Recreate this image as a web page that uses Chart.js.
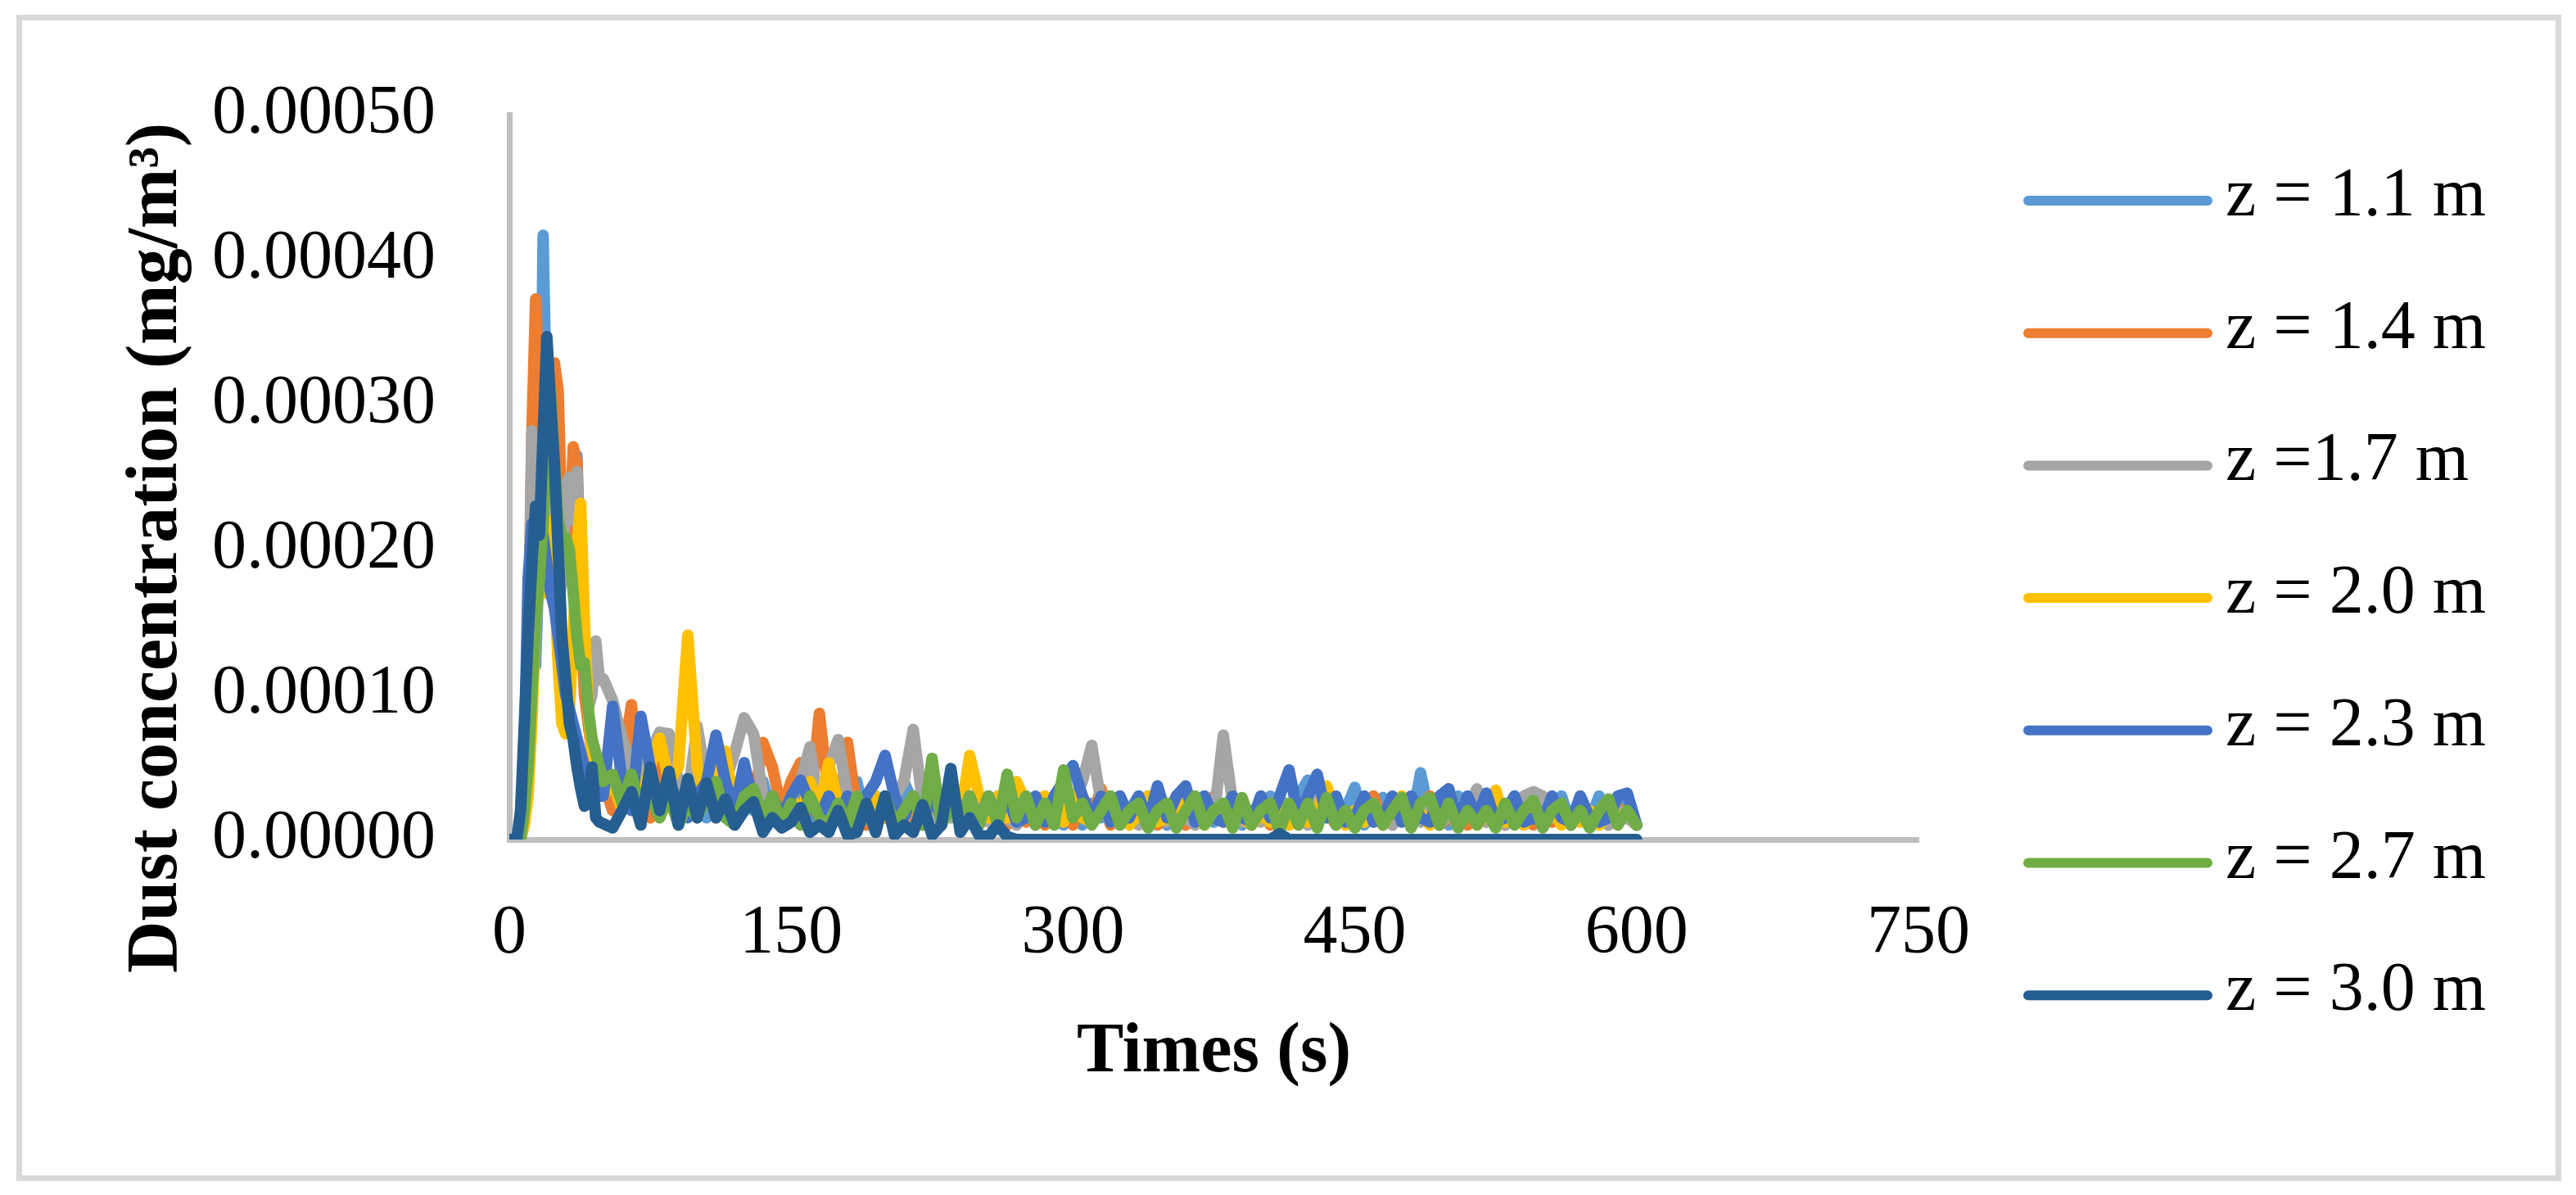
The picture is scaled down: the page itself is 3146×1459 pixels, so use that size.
<!DOCTYPE html>
<html>
<head>
<meta charset="utf-8">
<title>Dust concentration</title>
<script src="https://cdn.jsdelivr.net/npm/chart.js@4.4.1/dist/chart.umd.min.js"></script>
<style>
  html, body { margin: 0; padding: 0; background: #fff; }
  #wrap { position: relative; width: 3146px; height: 1459px; }
  #frame {
    position: absolute; left: 20px; top: 18px; width: 3108px; height: 1424px;
    box-sizing: border-box; border: 7px solid #d9d9d9;
  }
  #chartdust { position: absolute; left: 0; top: 0; }
</style>
</head>
<body>
<div id="wrap">
  <div id="frame"></div>
  <canvas id="chartdust" width="3146" height="1459"></canvas>
</div>
<script>
// time (s)
const times = [
  0, 2, 4, 6, 8, 10, 12, 14, 16, 18, 20, 22, 24, 26, 28, 30, 32, 34, 36, 38, 40, 42, 44, 46, 48,
  50, 55, 60, 65, 70, 75, 80, 85, 90, 95,
  100, 105, 110, 115, 120, 125, 130, 135, 140, 145,
  150, 155, 160, 165, 170, 175, 180, 185, 190, 195,
  200, 205, 210, 215, 220, 225, 230, 235, 240, 245,
  250, 255, 260, 265, 270, 275, 280, 285, 290, 295,
  300, 305, 310, 315, 320, 325, 330, 335, 340, 345,
  350, 355, 360, 365, 370, 375, 380, 385, 390, 395,
  400, 405, 410, 415, 420, 425, 430, 435, 440, 445,
  450, 455, 460, 465, 470, 475, 480, 485, 490, 495,
  500, 505, 510, 515, 520, 525, 530, 535, 540, 545,
  550, 555, 560, 565, 570, 575, 580, 585, 590, 595,
  600
];

// concentrations, in 1e-5 mg/m3
const z11 = [
  0, 0, 0, 1, 4, 8, 14, 12, 20, 41.7, 28, 24, 20, 27, 24, 22, 18, 22, 26.5, 18, 12, 8, 6, 5, 4,
  4, 2, 5, 2.5, 4, 6, 2, 5, 3.5, 2,
  4, 1.5, 5, 3, 1.5, 5, 2, 4, 1.5, 3,
  1.5, 4, 1, 3, 4, 1.5, 2, 4, 1, 2.5,
  3, 1, 4, 2.5, 1, 3, 1.5, 3, 1, 2.5,
  1, 3, 1.5, 3, 1, 2.5, 1, 2, 3, 1,
  3, 1, 2.5, 1.5, 3, 1, 2, 3, 1, 2.5,
  1, 3, 1.5, 1, 2.8, 1.2, 2, 3, 1, 2,
  1.5, 3, 1, 2, 3, 4.1, 1.2, 3, 1, 2,
  3.6, 1, 2, 2.9, 1, 2.2, 1, 4.6, 1.5, 2,
  1, 3, 1.5, 2, 3, 1, 2, 3, 1, 2,
  1.5, 2, 3, 1, 2, 1.2, 3, 1.5, 3, 2,
  1
];
const z14 = [
  0, 0, 0, 1, 5, 12, 28, 37.3, 30, 25, 24, 28, 32.9, 31, 22, 18, 20, 27.1, 26, 15, 10, 8, 6, 5, 4,
  4, 2, 5, 9.3, 3, 1.5, 5, 3.5, 2, 4,
  2, 4, 1.5, 4, 2, 5, 2.5, 6.7, 5, 2,
  4, 5.3, 2, 8.7, 3, 1.5, 6.7, 2, 1, 3,
  1.5, 3, 1, 3, 1.5, 3, 1, 3, 1.5, 2.5,
  1, 3, 1.5, 1, 3, 1.2, 2.5, 1, 1.5, 3,
  1, 3, 1.5, 3.5, 1, 2.5, 1.2, 1.8, 3, 1,
  1.5, 2.8, 1, 2, 1.2, 3, 1.5, 1, 2.2, 1,
  3, 1, 2, 1.5, 1, 2.8, 1.5, 2, 1, 1.8,
  1.2, 2, 3, 1, 1.5, 2.2, 1, 1.8, 3, 1,
  1.5, 2, 1, 3, 1.2, 2, 1, 2.2, 1.5, 1,
  2, 1.2, 1.8, 1, 3, 1.5, 2, 1, 2.2, 1.5,
  1
];
const z17 = [
  0, 0, 0, 0, 3, 12, 28.2, 22, 20, 17, 25, 24, 21, 16, 18, 24.5, 25, 22, 25.4, 16, 12, 9, 10, 13.7, 11,
  11.1, 9.6, 7, 5, 4, 6, 7.4, 7.3, 4, 3,
  7.8, 4, 2.5, 4, 6, 8.4, 7.3, 3, 2.5, 1.5,
  3, 4, 6.4, 2, 5, 6.9, 3, 2.5, 1.5, 3,
  1.5, 3, 4, 7.6, 2.5, 1.5, 3, 1.5, 3, 1.5,
  3, 1.2, 3, 1.5, 1, 3, 1.5, 3, 1.2, 3,
  2.5, 4, 6.5, 2.5, 1.2, 3, 1.5, 1, 3, 1.5,
  1.2, 3, 1.5, 1, 3, 1.5, 7.2, 2.5, 1.2, 1.8,
  1.2, 2, 3, 1.2, 1.8, 1, 3, 1.5, 2, 1,
  1.5, 3, 1.2, 2, 1, 3, 1.5, 1.2, 2, 1,
  1.8, 1, 2, 3.5, 1.2, 2, 1, 1.5, 3, 3.3,
  3, 1.5, 2, 1, 1.8, 1.2, 2, 1, 2, 1.5,
  1
];
const z20 = [
  0, 0, 0, 0, 1, 3, 8, 15, 18, 17, 20, 22, 18, 12, 8, 7.3, 9, 14, 20, 23.2, 15, 9, 6, 4, 3,
  3, 4, 2, 4, 2.5, 5, 7, 4, 5, 14.1,
  5, 2.5, 4, 6.1, 2, 4, 2.5, 1.5, 3, 1.5,
  3, 1.5, 4, 2, 5.3, 2.5, 1.5, 3, 1.5, 3,
  1.5, 3, 1.5, 3, 1, 3, 1.5, 3, 1.5, 5.8,
  3, 1.5, 3, 1.5, 4, 2.5, 1.2, 3, 1.5, 1.2,
  3, 1.5, 1.2, 3, 1.5, 2.5, 1, 1.8, 3, 1.2,
  1.5, 1.2, 3, 1.5, 1, 2, 1.2, 3, 1.5, 1,
  1.8, 1.2, 2, 1, 1.8, 1.2, 2, 3.7, 1.5, 1,
  2, 1.2, 1.8, 1, 2, 3, 1.2, 1.8, 1, 2,
  3.5, 1.2, 2, 1, 1.8, 3.4, 1.2, 2, 1, 1.8,
  1.2, 2, 1, 1.8, 1.2, 2, 1, 1.8, 1.2, 2,
  1
];
const z23 = [
  0, 0, 0, 1, 6, 18, 21.8, 20, 18, 21, 19, 17, 16, 14, 12, 10, 9, 8, 7, 6, 5, 4, 3, 4, 3,
  3, 9.2, 4, 2, 8.5, 5, 2, 4, 2.5, 1.5,
  3, 4, 7.2, 4, 2, 5.3, 2.5, 1.5, 3, 1.5,
  3, 4.1, 2.5, 1.5, 3, 1.5, 3, 1.2, 3, 4,
  5.8, 3, 1.5, 3, 1.2, 3, 1.5, 3, 1.2, 3,
  1.2, 3, 1.5, 3, 1.2, 1.5, 3, 1.2, 3, 4,
  5.1, 3, 1.5, 3, 1.2, 3, 1.5, 3, 1.2, 3.7,
  1.5, 3, 3.7, 1.2, 3, 1.5, 1.2, 3, 1.5, 1.2,
  3, 1.5, 3, 4.8, 1.5, 3, 4.5, 1.5, 3, 1.2,
  1.5, 3, 1.2, 1.5, 3, 1.2, 3, 1.5, 1.2, 3,
  3.5, 1.2, 3, 1.5, 3.2, 1.2, 1.5, 3, 1.2, 1.5,
  1.2, 3, 1.5, 1.2, 3, 1.5, 1.2, 1.5, 3, 3.2,
  1
];
const z27 = [
  0, 0, 0, 0, 2, 5, 10, 15, 18, 22, 28, 31, 26, 22, 21, 20.8, 20, 17, 14, 12, 12.2, 9, 7, 6, 5,
  4, 4.5, 2.5, 4.5, 2, 3, 1.5, 3, 1, 2.5,
  1.5, 3, 4, 1.5, 1, 3, 3.5, 1.5, 3, 1,
  2.5, 1, 3, 1.5, 1, 2.5, 1, 3, 1.5, 1,
  3, 1, 2, 3, 1, 5.6, 1, 2.5, 1, 3,
  1, 3, 1, 4.5, 1.5, 3, 1, 2.5, 1, 4.8,
  1.5, 2.5, 1, 2, 3, 1, 2, 2.5, 0.8, 2,
  2.5, 0.8, 2, 3, 1, 2, 2.5, 0.8, 2.9, 1,
  2, 2.5, 0.6, 2.5, 1, 2.5, 0.8, 2.9, 1, 2,
  0.8, 2, 2.5, 1, 2, 2.9, 0.8, 2.5, 2.9, 1,
  2.5, 0.8, 2, 1, 2, 0.8, 2.5, 1, 2, 2.7,
  0.8, 2, 2.5, 1, 2, 0.8, 2, 2.8, 1, 2,
  1
];
const z30 = [
  0, 0, 0, 2, 8, 14, 19, 23, 21, 28, 34.7, 30, 26, 20, 14, 11, 8, 6.9, 5, 3.5, 2.3, 2.5, 5, 1.5, 1.2,
  1.1, 0.8, 2, 3.3, 1, 5, 2, 4.7, 1, 4.2,
  1.5, 3.9, 1.5, 2.8, 1, 2, 2.6, 0.5, 1.5, 0.8,
  1.2, 2.2, 0.5, 1, 0.5, 2, 0.3, 0.5, 2.5, 0.5,
  3, 0.3, 1, 0.5, 2.4, 0.3, 1, 4.9, 0.5, 1.5,
  0.3, 0.2, 1, 0.2, 0, 0, 0, 0, 0, 0,
  0, 0, 0, 0, 0, 0, 0, 0, 0, 0,
  0, 0, 0, 0, 0, 0, 0, 0, 0, 0,
  0, 0, 0.4, 0, 0, 0, 0, 0, 0, 0,
  0, 0, 0, 0, 0, 0, 0, 0, 0, 0,
  0, 0, 0, 0, 0, 0, 0, 0, 0, 0,
  0, 0, 0, 0, 0, 0, 0, 0, 0, 0,
  0
];

const UNIT = 1e-5;
const seriesLabels = ['z = 1.1 m', 'z = 1.4 m', 'z =1.7 m', 'z = 2.0 m', 'z = 2.3 m', 'z = 2.7 m', 'z = 3.0 m'];
const seriesValues = [z11, z14, z17, z20, z23, z27, z30];
const seriesColors = ['#5B9BD5', '#ED7D31', '#A5A5A5', '#FFC000', '#4472C4', '#70AD47', '#255E91'];

const X_TITLE = 'Times (s)';
const Y_TITLE = 'Dust concentration (mg/m\u00B3)';
const FONT = '"Liberation Serif", "Times New Roman", serif';

var datasets = seriesValues.map(function(vals, i) {
  return {
    label: seriesLabels[i],
    data: vals.map(function(v, k) { return {x: times[k], y: v * UNIT}; }),
    borderColor: seriesColors[i],
    backgroundColor: seriesColors[i],
    borderWidth: 14,
    borderJoinStyle: 'round',
    borderCapStyle: 'round',
    pointRadius: 0,
    tension: 0,
    fill: false,
    order: seriesValues.length - 1 - i   // last series (3.0 m) on top
  };
});

// axis titles + legend, placed like the original figure
const decor = {
  id: 'decor',
  afterDraw(chart) {
    const ctx = chart.ctx;
    const area = chart.chartArea;
    ctx.save();
    ctx.fillStyle = '#000';

    // y title, rotated
    ctx.font = 'bold 88px ' + FONT;
    ctx.textAlign = 'center';
    ctx.textBaseline = 'alphabetic';
    ctx.save();
    ctx.translate(215, 669);
    ctx.rotate(-Math.PI / 2);
    ctx.fillText(Y_TITLE, 0, 0);
    ctx.restore();

    // x title
    ctx.font = 'bold 86px ' + FONT;
    ctx.fillText(X_TITLE, (area.left + area.right) / 2, 1308);

    // legend
    ctx.font = '84px ' + FONT;
    ctx.textAlign = 'left';
    ctx.textBaseline = 'middle';
    chart.data.datasets.forEach(function(ds, i) {
      let y = 245 + i * 161.7;
      ctx.strokeStyle = ds.borderColor;
      ctx.lineWidth = 12;
      ctx.lineCap = 'round';
      ctx.beginPath();
      ctx.moveTo(2477, y);
      ctx.lineTo(2696, y);
      ctx.stroke();
      ctx.fillText(ds.label, 2718, y - 4);
    });
    ctx.restore();
  }
};

const config = {
  type: 'line',
  data: { datasets: datasets },
  options: {
    responsive: false,
    animation: false,
    devicePixelRatio: 1,
    layout: { padding: { left: 0, top: 118, right: 803, bottom: 0 } },
    plugins: {
      legend: { display: false },
      tooltip: { enabled: false }
    },
    scales: {
      x: {
        type: 'linear',
        min: 0,
        max: 750,
        grid: { display: false, drawTicks: false },
        border: { display: true, color: '#BFBFBF', width: 7 },
        ticks: {
          stepSize: 150,
          padding: 66,
          color: '#000',
          maxRotation: 0,
          font: { family: FONT, size: 84 }
        },
        afterFit: function(s) { s.height = 434; }
      },
      y: {
        min: 0,
        max: 0.0005,
        grid: { display: false, drawTicks: false },
        border: { display: true, color: '#BFBFBF', width: 7 },
        ticks: {
          stepSize: 0.0001,
          padding: 90,
          color: '#000',
          font: { family: FONT, size: 84 },
          callback: function(v) { return Number(v).toFixed(5); }
        },
        afterFit: function(s) { s.width = 622; }
      }
    }
  },
  plugins: [decor]
};

new Chart(document.getElementById('chartdust').getContext('2d'), config);
</script>
</body>
</html>
